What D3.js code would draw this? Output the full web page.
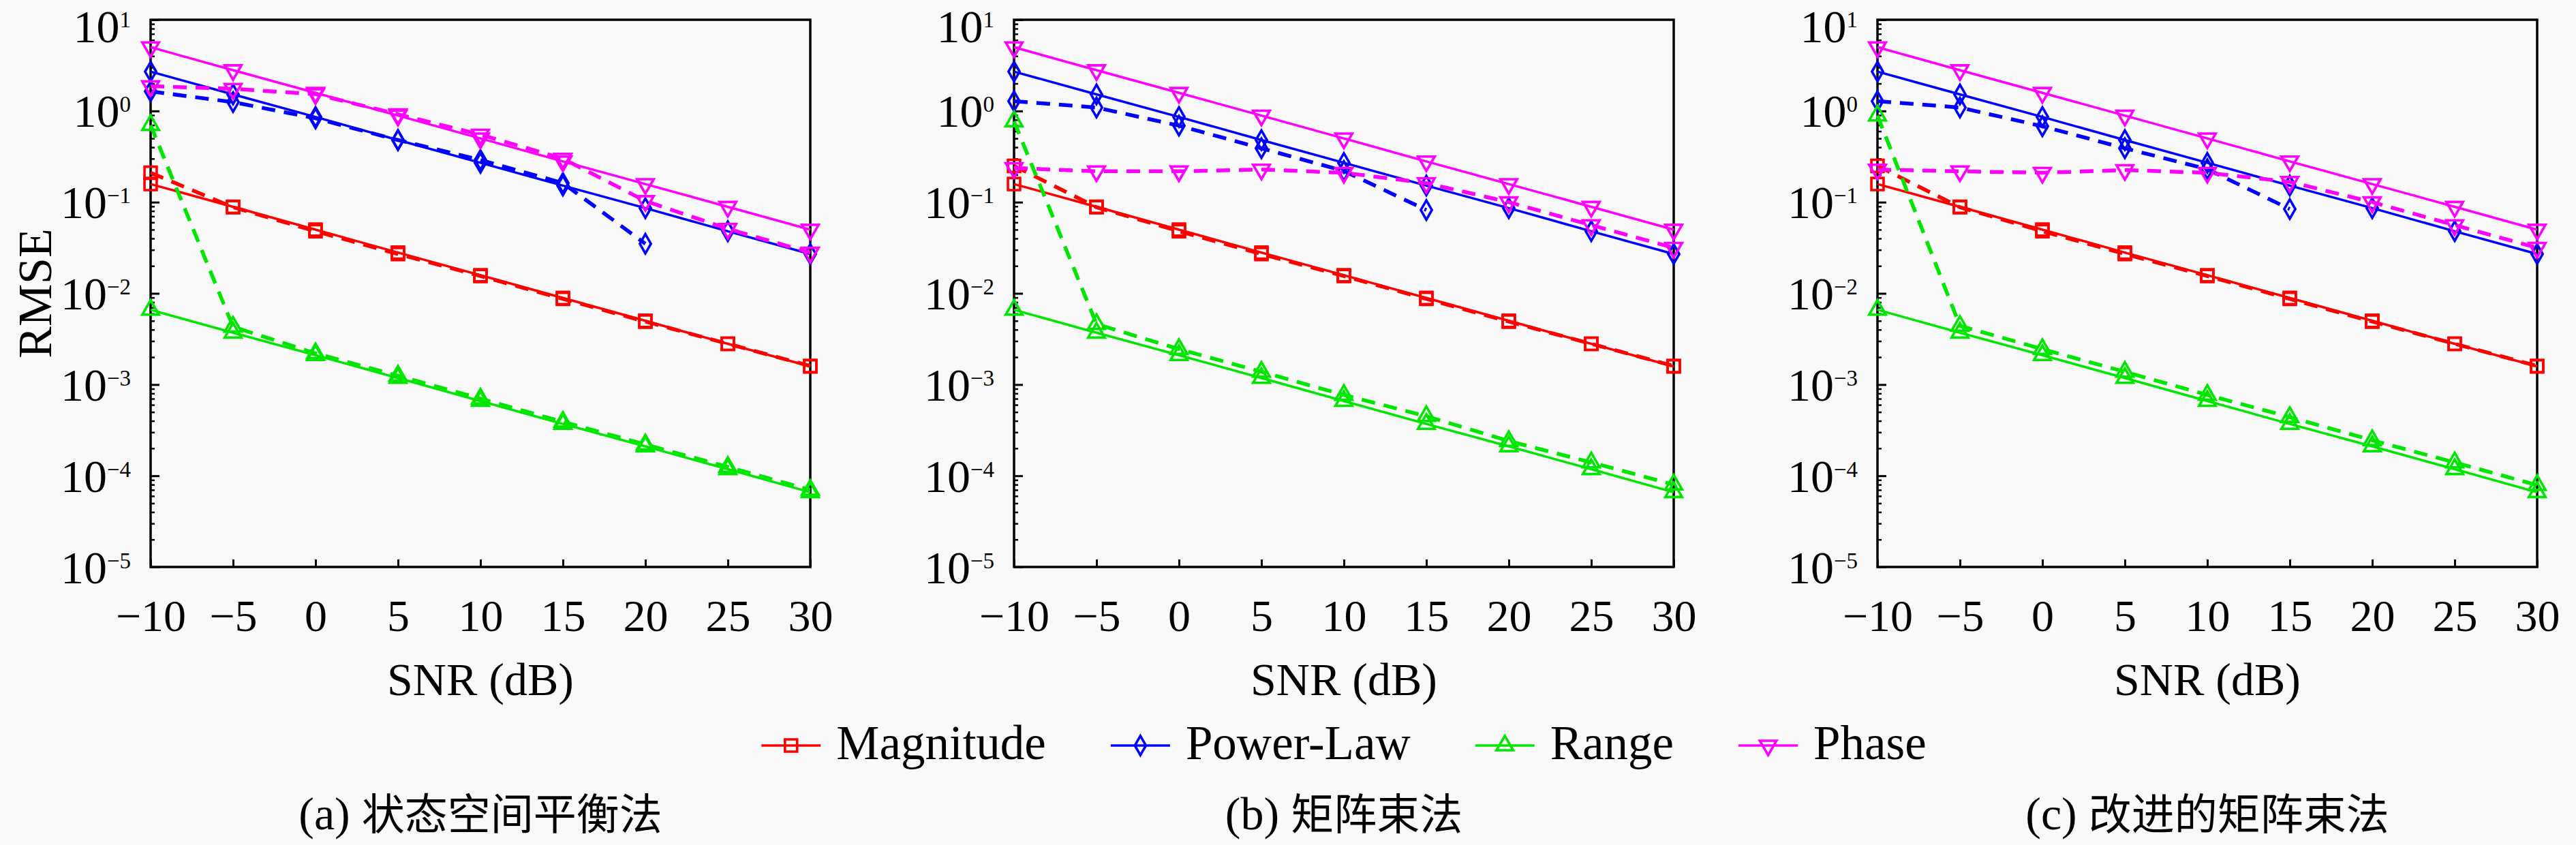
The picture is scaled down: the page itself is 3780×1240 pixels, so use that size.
<!DOCTYPE html>
<html>
<head>
<meta charset="utf-8">
<script src="https://cdn.jsdelivr.net/npm/d3@7"></script>
<style>
    body { margin: 0; background: #f9f9f9; }
    svg text { font-family: "Liberation Serif", "DejaVu Serif", serif; fill: #000; }
</style>
</head>
<body>
<svg id="figura"></svg>
<script>
/*--- datos ---*/
let snr = [-10, -5, 0, 5, 10, 15, 20, 25, 30]
let nombres = ["Magnitude", "Power-Law", "Range", "Phase"]
let colores = ["#ff0000", "#0000ff", "#00e600", "#ff00ff"]
let ticks_y = [1e-5, 1e-4, 1e-3, 1e-2, 1e-1, 1e0, 1e1]
let exponentes = ["−5", "−4", "−3", "−2", "−1", "0", "1"]

// lineas continuas (iguales en los tres paneles)
let magnitud_teo = [0.158, 0.089, 0.05, 0.028, 0.0158, 0.0089, 0.005, 0.0028, 0.00158]
let potencia_teo = [2.7, 1.52, 0.86, 0.48, 0.27, 0.152, 0.086, 0.048, 0.027]
let rango_teo    = [0.0066, 0.0037, 0.0021, 0.00118, 0.00066, 0.00037, 0.00021, 0.000118, 0.000066]
let fase_teo     = [5.0, 2.8, 1.58, 0.89, 0.5, 0.28, 0.158, 0.089, 0.05]

// lineas punteadas, panel (a)
let magnitud_a = [0.21, 0.088, 0.048, 0.027, 0.0155, 0.0087, 0.0049, 0.0028, 0.0016]
let potencia_a = [1.64, 1.25, 0.83, 0.48, 0.29, 0.162, 0.035, null, null]
let rango_a    = [0.70, 0.0043, 0.0022, 0.00125, 0.0007, 0.00039, 0.00022, 0.000125, 0.00007]
let fase_a     = [1.87, 1.75, 1.53, 0.92, 0.55, 0.30, 0.103, 0.051, 0.028]

// panel (b)
let magnitud_b = [0.25, 0.088, 0.048, 0.027, 0.0155, 0.0087, 0.0049, 0.0028, 0.0016]
let potencia_b = [1.28, 1.09, 0.69, 0.39, 0.22, 0.082, null, null, null]
let rango_b    = [0.77, 0.0046, 0.00245, 0.00138, 0.00077, 0.00045, 0.00024, 0.00014, 0.00008]
let fase_b     = [0.237, 0.218, 0.218, 0.228, 0.21, 0.162, 0.1, 0.056, 0.0316]

// panel (c)
let magnitud_c = [0.25, 0.088, 0.048, 0.027, 0.0155, 0.0087, 0.0049, 0.0028, 0.0016]
let potencia_c = [1.28, 1.09, 0.68, 0.39, 0.23, 0.084, null, null, null]
let rango_c    = [0.89, 0.0044, 0.00245, 0.00138, 0.00077, 0.00044, 0.000245, 0.00014, 0.000079]
let fase_c     = [0.228, 0.218, 0.21, 0.225, 0.21, 0.167, 0.1, 0.056, 0.0316]

let letras  = ["(a) ", "(b) ", "(c) "]
let titulos = ["状态空间平衡法", "矩阵束法", "改进的矩阵束法"]

/*--- Variables técnicas ---*/
let width = 3780
let height = 1240
let izq = 221, paso = 1267, ancho = 968
let arriba = 29, alto = 803

let teoricas = [magnitud_teo, potencia_teo, rango_teo, fase_teo]
let punteadas = [
    [magnitud_a, potencia_a, rango_a, fase_a],
    [magnitud_b, potencia_b, rango_b, fase_b],
    [magnitud_c, potencia_c, rango_c, fase_c]
]

let marcas = [
    d3.symbol().type(d3.symbolSquare).size(320),
    d3.symbol().type(d3.symbolDiamond).size(230),
    d3.symbol().type(d3.symbolTriangle).size(260),
    d3.symbol().type(d3.symbolTriangle).size(260)
]
let giros = [0, 0, 0, 180]

let svg = d3.select("#figura").attr("width", width).attr("height", height)
svg.append("rect").attr("width", width).attr("height", height).attr("fill", "#f9f9f9")

let x = d3.scaleLinear().domain([-10, 30]).range([0, ancho])
let y = d3.scaleLog().domain([1e-5, 10]).range([alto, 0])

// ticks menores de la escala log
let menores = []
for (let e = -5; e < 1; e++) {
    for (let m = 2; m < 10; m++) menores.push(m * Math.pow(10, e))
}

function dibujar_marca(g, i, px, py) {
    g.append("path")
        .attr("d", marcas[i]())
        .attr("transform", "translate(" + px + "," + py + ") rotate(" + giros[i] + ")")
        .attr("fill", "none")
        .attr("stroke", colores[i])
        .attr("stroke-width", 3.6)
}

for (let p = 0; p < 3; p++) {
    let g = svg.append("g").attr("transform", "translate(" + (izq + p * paso) + "," + arriba + ")")

    // eje x
    let ejeX = g.append("g")
        .attr("transform", "translate(0," + alto + ")")
        .call(d3.axisBottom(x).tickValues(snr).tickSizeInner(-11).tickSizeOuter(0)
            .tickPadding(47).tickFormat(d3.format("d")))
    ejeX.select(".domain").remove()
    ejeX.selectAll(".tick line").attr("stroke-width", 3)
    ejeX.selectAll(".tick text")
        .attr("font-size", 66)
        .attr("font-family", "Liberation Serif, serif")

    // eje y, ticks menores
    let ejeYm = g.append("g")
        .call(d3.axisLeft(y).tickValues(menores).tickSizeInner(-6).tickSizeOuter(0).tickFormat(""))
    ejeYm.select(".domain").remove()
    ejeYm.selectAll(".tick line").attr("stroke-width", 2.5)

    // eje y, ticks mayores
    let ejeY = g.append("g")
        .call(d3.axisLeft(y).tickValues(ticks_y).tickSizeInner(-13).tickSizeOuter(0).tickPadding(29))
    ejeY.select(".domain").remove()
    ejeY.selectAll(".tick line").attr("stroke-width", 3)
    ejeY.selectAll(".tick text")
        .attr("font-size", 68)
        .attr("font-family", "Liberation Serif, serif")
        .attr("dy", "0.34em")
        .text(null)
        .each(function (d, k) {
            let t = d3.select(this)
            // la etiqueta de arriba baja un poco para que no se corte
            if (k == ticks_y.length - 1) t.attr("y", 9)
            t.append("tspan").text("10")
            t.append("tspan").attr("font-size", 33).attr("dy", -22).text(exponentes[k])
        })

    // marco
    g.append("rect")
        .attr("width", ancho).attr("height", alto)
        .attr("fill", "none").attr("stroke", "#000").attr("stroke-width", 3.5)

    let linea = d3.line()
        .defined(d => d[1] != null)
        .x(d => x(d[0]))
        .y(d => y(d[1]))

    for (let i = 0; i < 4; i++) {
        let continua = snr.map((s, k) => [s, teoricas[i][k]])
        let punteada = snr.map((s, k) => [s, punteadas[p][i][k]])

        g.append("path").datum(continua)
            .attr("d", linea)
            .attr("fill", "none").attr("stroke", colores[i]).attr("stroke-width", 3.5)
        g.append("path").datum(punteada)
            .attr("d", linea)
            .attr("fill", "none").attr("stroke", colores[i]).attr("stroke-width", 5.5)
            .attr("stroke-dasharray", "20,13")

        continua.forEach(d => dibujar_marca(g, i, x(d[0]), y(d[1])))
        punteada.filter(d => d[1] != null).forEach(d => dibujar_marca(g, i, x(d[0]), y(d[1])))
    }

    // titulo del eje x
    g.append("text")
        .attr("x", ancho / 2).attr("y", 991)
        .attr("text-anchor", "middle")
        .attr("font-size", 68)
        .text("SNR (dB)")

    // pie de panel
    let pie = g.append("text")
        .attr("x", ancho / 2).attr("y", 1188)
        .attr("text-anchor", "middle")
        .attr("font-size", 68)
    pie.append("tspan").text(letras[p])
    pie.append("tspan")
        .style("font-family", "'Noto Sans CJK SC', sans-serif")
        .attr("font-size", 63)
        .text(titulos[p])

    if (p == 0) {
        g.append("text")
            .attr("transform", "translate(" + (50 - izq) + "," + (alto / 2) + ") rotate(-90)")
            .attr("text-anchor", "middle")
            .attr("dy", "0.35em")
            .attr("font-size", 70)
            .text("RMSE")
    }
}

/*--- leyenda ---*/
let leyenda = svg.append("g")
let cursor = 0
let yLey = 1094
for (let i = 0; i < 4; i++) {
    let item = leyenda.append("g").attr("transform", "translate(" + cursor + ",0)")
    item.append("line")
        .attr("x1", 0).attr("x2", 87).attr("y1", yLey).attr("y2", yLey)
        .attr("stroke", colores[i]).attr("stroke-width", 3.5)
    dibujar_marca(item, i, 43.5, yLey)
    let t = item.append("text")
        .attr("x", 110).attr("y", yLey + 20)
        .attr("font-size", 71)
        .text(nombres[i])
    cursor += 110 + t.node().getComputedTextLength() + 95
}
let totalLey = cursor - 95
let centroB = izq + paso + ancho / 2
leyenda.attr("transform", "translate(" + (centroB - totalLey / 2) + ",0)")
</script>
</body>
</html>
